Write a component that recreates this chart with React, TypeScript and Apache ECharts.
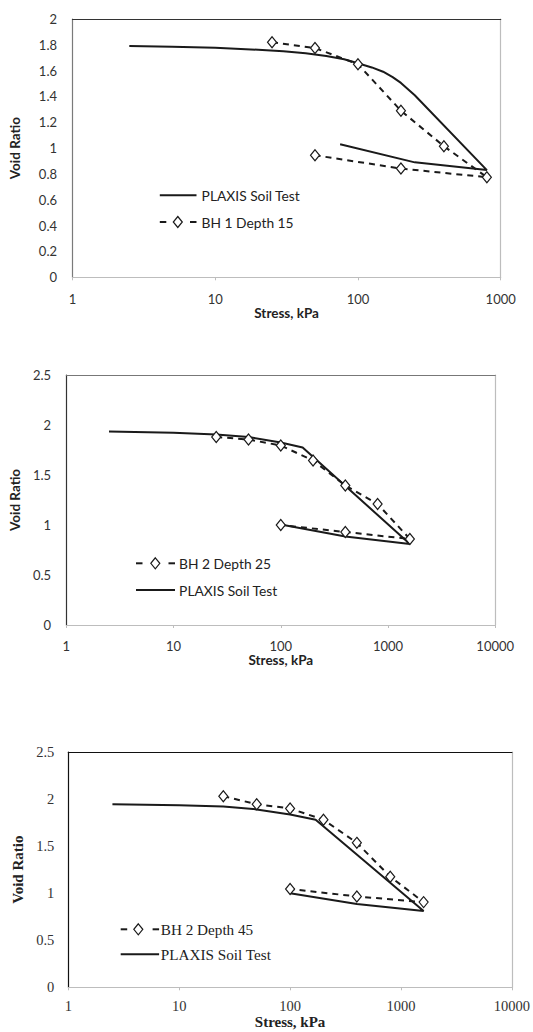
import React, { useEffect, useRef } from "react";
import * as echarts from "echarts";

// ---------- Data ----------
// Chart 1
const c1PlaxisStress = [2.5, 5, 10, 20, 30, 43, 60, 80, 100, 125, 150, 175, 200, 250, 800, 250, 75];
const c1PlaxisVoid = [1.79, 1.786, 1.777, 1.762, 1.75, 1.734, 1.713, 1.688, 1.657, 1.625, 1.592, 1.55, 1.505, 1.41, 0.83, 0.89, 1.03];
const c1TestStress = [25, 50, 100, 200, 400, 800, 200, 50];
const c1TestVoid = [1.82, 1.775, 1.65, 1.29, 1.015, 0.775, 0.842, 0.945];

// Chart 2
const c2PlaxisStress = [2.5, 10, 25, 50, 100, 160, 1600, 400, 100];
const c2PlaxisVoid = [1.935, 1.923, 1.905, 1.88, 1.825, 1.775, 0.81, 0.885, 1.005];
const c2TestStress = [25, 50, 100, 200, 400, 800, 1600, 400, 100];
const c2TestVoid = [1.88, 1.855, 1.795, 1.645, 1.395, 1.21, 0.86, 0.93, 1.0];

// Chart 3
const c3PlaxisStress = [2.5, 10, 25, 50, 100, 170, 1600, 400, 100];
const c3PlaxisVoid = [1.945, 1.935, 1.92, 1.89, 1.835, 1.78, 0.81, 0.885, 1.0];
const c3TestStress = [25, 50, 100, 200, 400, 800, 1600, 400, 100];
const c3TestVoid = [2.03, 1.945, 1.9, 1.78, 1.535, 1.175, 0.905, 0.965, 1.045];

// Axis ranges
const xMaxes = [1000, 10000, 10000];
const yMaxes = [2, 2.5, 2.5];
const yIntervals = [0.2, 0.5, 0.5];

const plaxisName = "PLAXIS Soil Test";
const legend1 = "BH 1 Depth 15";
const legend2 = "BH 2 Depth 25";
const legend3 = "BH 2 Depth 45";
const xTitle = "Stress, kPa";
const yTitle = "Void Ratio";

const zip = (a: number[], b: number[]) => a.map((v, i) => [v, b[i]]);

const INK = "#1a1a1a";
const SANS = "Lato";
const SERIF = "Liberation Serif";

export default function App() {
  const ref = useRef<HTMLDivElement>(null);

  useEffect(() => {
    if (!ref.current) return;
    const chart = echarts.init(ref.current, undefined, { renderer: "svg" });

    const grids = [
      { left: 71.7, top: 19, width: 429, height: 258.3 },
      { left: 61.2, top: 375, width: 434, height: 250 },
      { left: 68.3, top: 752, width: 444.3, height: 235.3 },
    ];

    const fonts = [
      { family: SANS, tick: 13, title: 13.5, leftColor: "#7a7a7a", topColor: "#333", rightColor: "#bdbdbd", bottomColor: "#bdbdbd" },
      { family: SANS, tick: 13, title: 13.5, leftColor: "#333", topColor: "#777", rightColor: "#bdbdbd", bottomColor: "#bdbdbd" },
      { family: SERIF, tick: 14.5, title: 15, leftColor: "#111", topColor: "#111", rightColor: "#bdbdbd", bottomColor: "#bdbdbd" },
    ];
    const xNameGap = [26, 27, 27];
    const yNameGap = [50.5, 38, 40];
    const xLabelMargin = [15, 14.5, 11.5];
    const yLabelMargin = [15.5, 15.3, 14];

    const xAxis: any[] = [];
    const yAxis: any[] = [];
    grids.forEach((g, i) => {
      const f = fonts[i];
      xAxis.push({
        type: "log",
        logBase: 10,
        min: 1,
        max: xMaxes[i],
        gridIndex: i,
        position: "bottom",
        name: xTitle,
        nameLocation: "middle",
        nameGap: xNameGap[i],
        nameTextStyle: { fontFamily: f.family, fontSize: f.title, fontWeight: "bold", color: "#222" },
        axisLine: { show: true, onZero: false, lineStyle: { color: f.bottomColor, width: 1.2 } },
        axisTick: { show: true, inside: false, length: 3, lineStyle: { color: f.bottomColor } },
        minorTick: { show: false },
        splitLine: { show: false },
        axisLabel: {
          margin: xLabelMargin[i],
          fontFamily: f.family,
          fontSize: f.tick,
          color: "#333",
          formatter: (v: number) => String(Math.round(v)),
        },
      });
      xAxis.push({
        type: "log",
        logBase: 10,
        min: 1,
        max: xMaxes[i],
        gridIndex: i,
        position: "top",
        axisLine: { show: true, onZero: false, lineStyle: { color: f.topColor, width: 1.2 } },
        axisTick: { show: false },
        axisLabel: { show: false },
        splitLine: { show: false },
      });
      yAxis.push({
        type: "value",
        min: 0,
        max: yMaxes[i],
        interval: yIntervals[i],
        gridIndex: i,
        position: "left",
        name: yTitle,
        nameLocation: "middle",
        nameRotate: 90,
        nameGap: yNameGap[i],
        nameTextStyle: { fontFamily: f.family, fontSize: f.title, fontWeight: "bold", color: "#222" },
        axisLine: { show: true, onZero: false, lineStyle: { color: f.leftColor, width: 1.2 } },
        axisTick: { show: false },
        splitLine: { show: false },
        axisLabel: {
          margin: yLabelMargin[i],
          fontFamily: f.family,
          fontSize: f.tick,
          color: "#333",
          formatter: (v: number) => String(+v.toFixed(1)),
        },
      });
      yAxis.push({
        type: "value",
        min: 0,
        max: yMaxes[i],
        interval: yIntervals[i],
        gridIndex: i,
        position: "right",
        axisLine: { show: true, onZero: false, lineStyle: { color: f.rightColor, width: 1.2 } },
        axisTick: { show: false },
        axisLabel: { show: false },
        splitLine: { show: false },
      });
    });

    const solid = (name: string, xs: number[], ys: number[], gi: number) => ({
      type: "line",
      name,
      xAxisIndex: gi * 2,
      yAxisIndex: gi * 2,
      data: zip(xs, ys),
      showSymbol: false,
      symbol: "none",
      lineStyle: { color: INK, width: 2 },
      z: 3,
    });
    const dashed = (name: string, xs: number[], ys: number[], gi: number) => ({
      type: "line",
      name,
      xAxisIndex: gi * 2,
      yAxisIndex: gi * 2,
      data: zip(xs, ys),
      symbol: "diamond",
      symbolSize: [9, 11],
      itemStyle: { color: "#fff", borderColor: INK, borderWidth: 1.2 },
      lineStyle: { color: INK, width: 2, type: [6, 5] },
      z: 4,
    });

    const series = [
      solid(plaxisName, c1PlaxisStress, c1PlaxisVoid, 0),
      dashed(legend1, c1TestStress, c1TestVoid, 0),
      solid(plaxisName, c2PlaxisStress, c2PlaxisVoid, 1),
      dashed(legend2, c2TestStress, c2TestVoid, 1),
      solid(plaxisName, c3PlaxisStress, c3PlaxisVoid, 2),
      dashed(legend3, c3TestStress, c3TestVoid, 2),
    ];

    // legend graphics
    const diamond = (cx: number, cy: number) => ({
      type: "polygon",
      shape: { points: [[cx, cy - 5.5], [cx + 4.5, cy], [cx, cy + 5.5], [cx - 4.5, cy]] },
      style: { fill: "#fff", stroke: INK, lineWidth: 1.2 },
    });
    const seg = (x1: number, x2: number, y: number) => ({
      type: "line",
      shape: { x1, y1: y, x2, y2: y },
      style: { stroke: INK, lineWidth: 2 },
    });
    const txt = (x: number, y: number, text: string, family: string, size: number) => ({
      type: "text",
      x,
      y,
      style: { text, fontFamily: family, fontSize: size, fill: "#222", verticalAlign: "middle", align: "left" },
    });
    const solidEntry = (x1: number, x2: number, y: number, tx: number, family: string, size: number) => [
      seg(x1, x2, y),
      txt(tx, y, plaxisName, family, size),
    ];
    const dashEntry = (x1: number, x2: number, dc: number, y: number, tx: number, label: string, family: string, size: number) => [
      seg(x1, x1 + 6.5, y),
      diamond(dc, y),
      seg(x2 - 6.5, x2, y),
      txt(tx, y, label, family, size),
    ];

    const graphic = [
      ...solidEntry(159.8, 196.5, 195.3, 201.6, SANS, 13.8),
      ...dashEntry(159.8, 196.5, 177.8, 222, 201.6, legend1, SANS, 13.8),
      ...dashEntry(136, 175, 155.3, 563.3, 179.1, legend2, SANS, 13.8),
      ...solidEntry(136, 175, 590, 179.1, SANS, 13.8),
      ...dashEntry(120.7, 159.1, 138.3, 929.3, 160.8, legend3, SERIF, 15.2),
      ...solidEntry(120.7, 159.1, 954.3, 160.8, SERIF, 15.2),
    ];

    chart.setOption({
      animation: false,
      backgroundColor: "#fff",
      grid: grids.map((g) => ({ ...g, show: false })),
      xAxis,
      yAxis,
      series,
      graphic,
    });

    return () => chart.dispose();
  }, []);

  return (
    <div
      ref={ref}
      style={{ position: "absolute", left: 0, top: 0, width: 533, height: 1032, background: "#fff" }}
    />
  );
}
